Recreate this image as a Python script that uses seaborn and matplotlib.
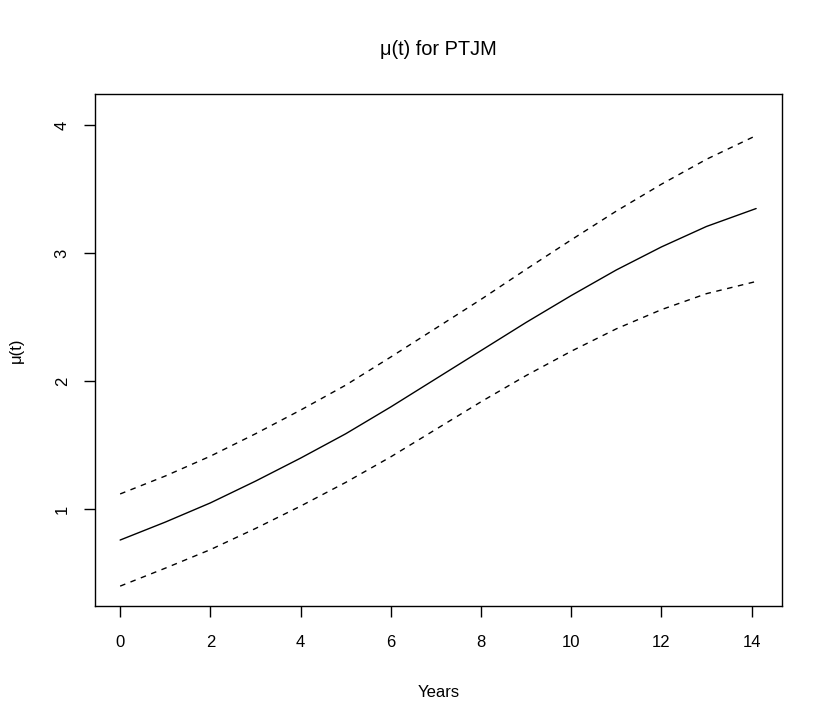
import numpy as np
import pandas as pd
import matplotlib
matplotlib.use("Agg")
import matplotlib.pyplot as plt
import seaborn as sns

# Data
years = [0, 1, 2, 3, 4, 5, 6, 7, 8, 9, 10, 11, 12, 13, 14.1]
mu_mean = [0.76, 0.90, 1.05, 1.22, 1.40, 1.59, 1.80, 2.02, 2.24, 2.46, 2.67, 2.87, 3.05, 3.21, 3.35]
mu_upper = [1.12, 1.26, 1.415, 1.59, 1.775, 1.97, 2.19, 2.415, 2.64, 2.875, 3.105, 3.33, 3.54, 3.735, 3.92]
mu_lower = [0.40, 0.54, 0.685, 0.85, 1.025, 1.21, 1.41, 1.625, 1.84, 2.045, 2.235, 2.41, 2.56, 2.685, 2.78]
x_ticks = [0, 2, 4, 6, 8, 10, 12, 14]
y_ticks = [1, 2, 3, 4]

sns.set_style("ticks")
plt.rcParams["font.family"] = ["Liberation Sans", "DejaVu Sans"]
plt.rcParams["text.color"] = "black"
plt.rcParams["axes.labelcolor"] = "black"
plt.rcParams["xtick.color"] = "black"
plt.rcParams["ytick.color"] = "black"

df = pd.DataFrame({"Years": years, "mean": mu_mean, "upper": mu_upper, "lower": mu_lower})

fig = plt.figure(figsize=(8.3, 7.24), dpi=100)
ax = fig.add_axes([0.1141, 0.1634, 0.9422 - 0.1141, 0.8702 - 0.1634])

sns.lineplot(data=df, x="Years", y="mean", ax=ax, color="black", linewidth=1.0)
sns.lineplot(data=df, x="Years", y="upper", ax=ax, color="black", linewidth=1.0, linestyle=(0, (4, 4)))
sns.lineplot(data=df, x="Years", y="lower", ax=ax, color="black", linewidth=1.0, linestyle=(0, (4, 4)))

ax.set_xlim(-0.564, 14.674)
ax.set_ylim(0.247, 4.245)
ax.set_xticks(x_ticks)
ax.set_yticks(y_ticks)
ax.set_xticklabels([str(v) for v in x_ticks])
ax.set_yticklabels([str(v) for v in y_ticks], rotation=90, va="center")

for s in ax.spines.values():
    s.set_visible(True)
    s.set_color("black")
    s.set_linewidth(1.0)

ax.tick_params(axis="both", direction="out", length=8, width=1.0, colors="black",
               labelcolor="black", labelsize=12, pad=13)
ax.tick_params(axis="y", pad=10)

ax.set_xlabel("Years", fontsize=12, labelpad=25, color="black")
ax.set_ylabel("μ(t)", fontsize=12, labelpad=22, color="black")
ax.set_title("μ(t) for PTJM", fontsize=14.4, pad=28, color="black")

fig.savefig("out.png", dpi=100)
